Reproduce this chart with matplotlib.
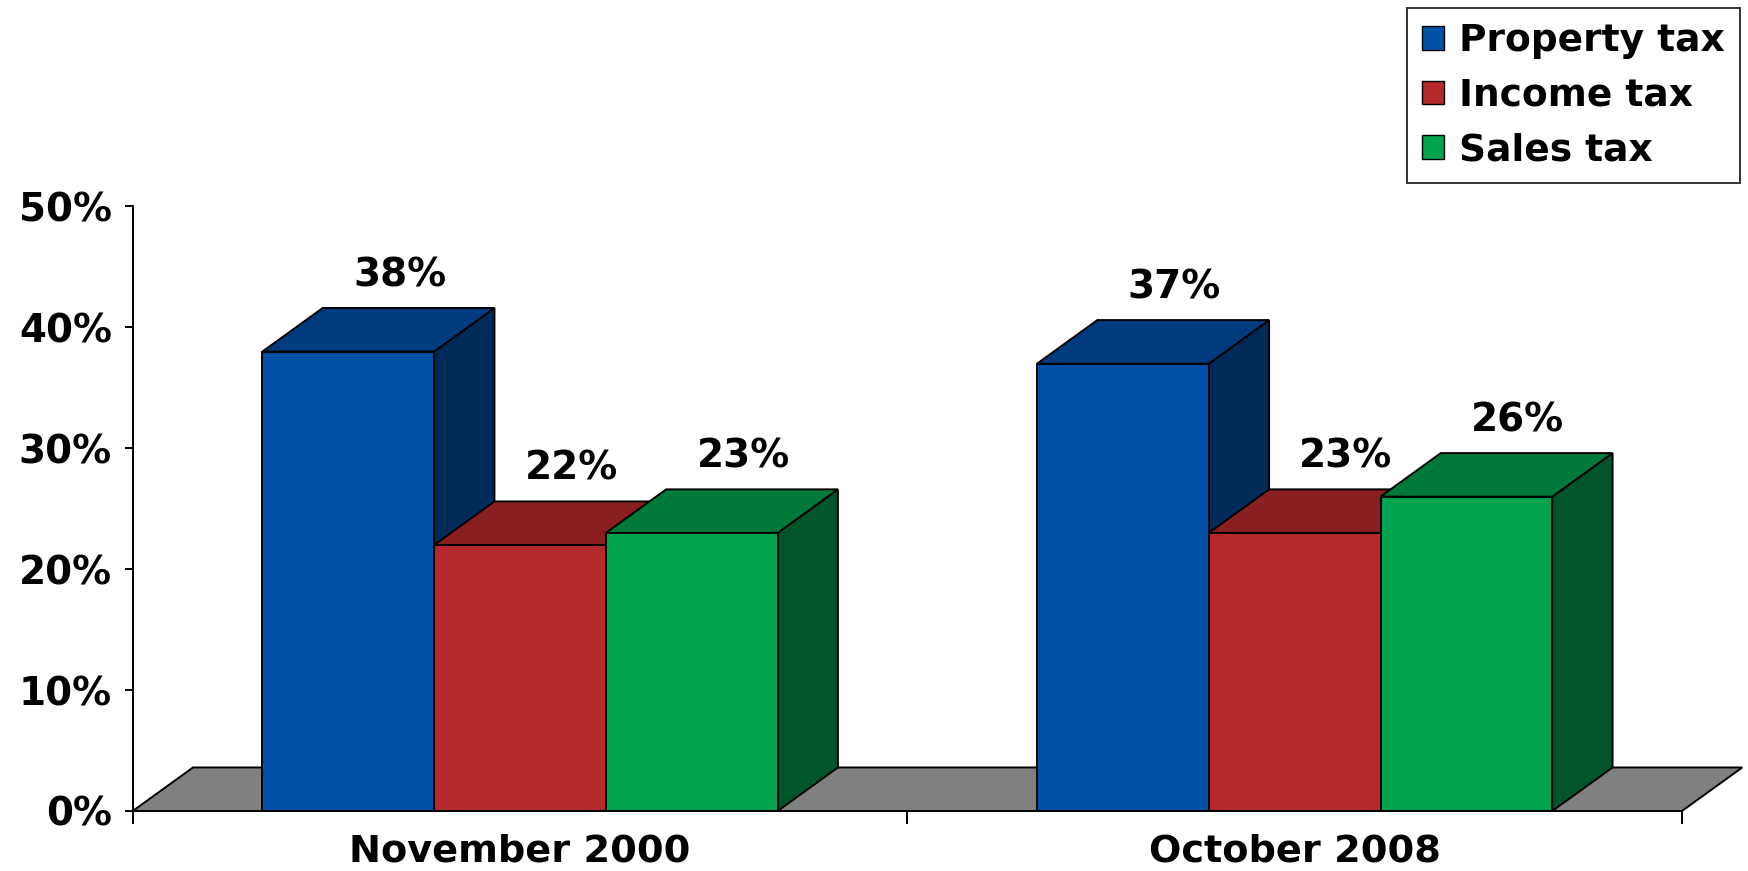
import matplotlib
matplotlib.use("Agg")
import matplotlib.pyplot as plt
from matplotlib.patches import Polygon, Patch

# ── Data ──────────────────────────────────────────────────────────────────────
categories = ["November 2000", "October 2008"]
series = ["Property tax", "Income tax", "Sales tax"]
property_tax = [38, 37]
income_tax = [22, 23]
sales_tax = [23, 26]
yticks = [0, 10, 20, 30, 40, 50]

# front / top / side shades per series
front_colors = ["#0051A8", "#B5282B", "#00A44F"]
top_colors = ["#003B7E", "#8A1F21", "#007A38"]
side_colors = ["#002A57", "#6A1618", "#00552A"]
floor_color = "#808080"

plt.rcParams["font.family"] = ["DejaVu Sans"]
plt.rcParams["font.weight"] = "bold"

fig = plt.figure(figsize=(17.49, 8.71), dpi=100)
ax = fig.add_axes([0.0759, 0.0689, 0.9617 - 0.0759, 0.763 - 0.0689])
ax.set_xlim(0, len(categories))
ax.set_ylim(0, 50)

bar_w = 0.2217      # front face width, in category-slot units
depth_x = 0.0778    # 3D depth offset, slot units
depth_y = 3.6       # 3D depth offset, percent units
lw = 1.4


def draw_bar(x0, h, i):
    x1 = x0 + bar_w
    front = [(x0, 0), (x1, 0), (x1, h), (x0, h)]
    top = [(x0, h), (x1, h), (x1 + depth_x, h + depth_y), (x0 + depth_x, h + depth_y)]
    side = [(x1, 0), (x1 + depth_x, depth_y), (x1 + depth_x, h + depth_y), (x1, h)]
    for pts, col in ((side, side_colors[i]), (top, top_colors[i]), (front, front_colors[i])):
        ax.add_patch(Polygon(pts, closed=True, facecolor=col, edgecolor="black",
                             linewidth=lw, joinstyle="miter", clip_on=False, zorder=3))


# floor
n = len(categories)
ax.add_patch(Polygon([(0, 0), (n, 0), (n + depth_x, depth_y), (depth_x, depth_y)],
                     closed=True, facecolor=floor_color, edgecolor="black",
                     linewidth=lw, clip_on=False, zorder=2))

values = [property_tax, income_tax, sales_tax]
for c in range(n):
    start = c + 0.5 - 1.5 * bar_w
    for i, vals in enumerate(values):
        x0 = start + i * bar_w
        draw_bar(x0, vals[c], i)
        ax.text(x0 + bar_w / 2 + depth_x * 0.85, vals[c] + depth_y + 2.7, f"{vals[c]}%",
                ha="center", va="center", fontsize=28, fontweight="bold", zorder=5)

# axes styling
for s in ("top", "right"):
    ax.spines[s].set_visible(False)
for s in ("left", "bottom"):
    ax.spines[s].set_linewidth(1.4)
    ax.spines[s].set_zorder(4)

ax.set_yticks(yticks)
ax.set_yticklabels([f"{v}%" for v in yticks])
ax.tick_params(axis="y", length=6, width=1.4, pad=9, labelsize=28)

ax.set_xticks(range(n + 1))
ax.set_xticklabels([])
ax.tick_params(axis="x", which="major", length=9, width=1.4)
ax.set_xticks([c + 0.5 for c in range(n)], minor=True)
ax.set_xticklabels(categories, minor=True)
ax.tick_params(axis="x", which="minor", length=0, pad=16, labelsize=27.5)

handles = [Patch(facecolor=front_colors[i], edgecolor="black", linewidth=1.0, label=series[i])
           for i in range(len(series))]
leg = fig.legend(handles=handles, loc="upper right", bbox_to_anchor=(1740 / 1749, 1 - 8 / 871),
                 fontsize=27, frameon=True, fancybox=False, edgecolor="black",
                 handlelength=0.6, handleheight=0.6, handletextpad=0.4,
                 labelspacing=0.5, borderpad=0.4, borderaxespad=0)
leg.get_frame().set_linewidth(1.4)
for t in leg.get_texts():
    t.set_fontweight("bold")

fig.savefig("out.png", dpi=100)
